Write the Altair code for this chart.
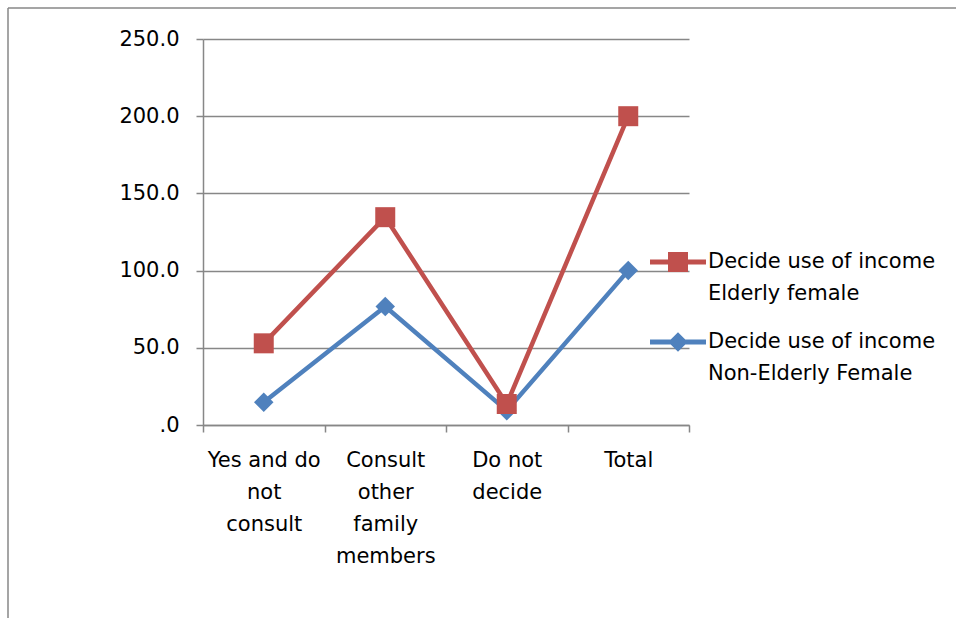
import altair as alt
import pandas as pd

# Categories (line breaks marked with "|")
categories = ["Yes and do|not|consult", "Consult|other|family|members", "Do not|decide", "Total"]
series_names = ["Decide use of income|Elderly female", "Decide use of income|Non-Elderly Female"]
elderly = [52.9, 134.6, 13.6, 200.0]
non_elderly = [14.7, 76.7, 9.3, 100.0]
y_ticks = [0, 50, 100, 150, 200, 250]

RED = "#C0504D"
BLUE = "#4F81BD"
GRAY = "#878787"
FONT = "DejaVu Sans"
FS = 21

rows = []
# blue rows first so red markers sit on top
for c, v in zip(categories, non_elderly):
    rows.append({"category": c, "series": series_names[1], "value": v})
for c, v in zip(categories, elderly):
    rows.append({"category": c, "series": series_names[0], "value": v})
df = pd.DataFrame(rows)

W, H = 486, 386
PAD = {"left": 203, "top": 39, "right": 267, "bottom": 193}

# Legend glyphs: a thick line with the series marker on top
red_glyph = "M-1,-0.09H1V0.09H-1Z M-0.357,-0.357H0.357V0.357H-0.357Z"
blue_glyph = "M-1,-0.09H1V0.09H-1Z M0,-0.35L0.35,0L0,0.35L-0.35,0Z"

x_enc = alt.X(
    "category:N",
    sort=categories,
    scale=alt.Scale(type="band", paddingInner=0, paddingOuter=0),
    axis=alt.Axis(
        title=None,
        labelExpr="split(datum.label, '|')",
        labelAngle=0,
        labelFont=FONT,
        labelFontSize=FS,
        labelColor="black",
        labelLineHeight=32,
        labelPadding=17,
        tickBand="extent",
        tickSize=7,
        tickColor=GRAY,
        tickWidth=1.5,
        domainColor=GRAY,
        domainWidth=1.5,
        grid=False,
    ),
)
y_enc = alt.Y(
    "value:Q",
    scale=alt.Scale(domain=[0, 250], nice=False),
    axis=alt.Axis(
        title=None,
        values=y_ticks,
        labelExpr="datum.value == 0 ? '.0' : format(datum.value, '.1f')",
        labelFont=FONT,
        labelFontSize=FS,
        labelColor="black",
        labelPadding=17,
        tickSize=7,
        tickColor=GRAY,
        tickWidth=1.5,
        domainColor=GRAY,
        domainWidth=1.5,
        grid=True,
        gridColor=GRAY,
        gridWidth=1.5,
    ),
)

color_scale = alt.Scale(domain=series_names, range=[RED, BLUE])
legend = alt.Legend(
    title=None,
    orient="none",
    legendX=447,
    legendY=195,
    padding=0,
    labelExpr="split(datum.label, '|')",
    labelFont=FONT,
    labelFontSize=FS,
    labelColor="black",
    labelOffset=2,
    labelLimit=400,
    symbolSize=3136,
    rowPadding=10,
    symbolType=alt.ExprRef(expr=f"datum.index == 0 ? '{red_glyph}' : '{blue_glyph}'"),
    symbolFillColor=alt.ExprRef(expr=f"datum.index == 0 ? '{RED}' : '{BLUE}'"),
    symbolStrokeWidth=0,
    symbolOpacity=1,
)

base = alt.Chart(df)

lines = base.mark_line(strokeWidth=4.5, strokeCap="round", strokeJoin="round").encode(
    x=x_enc,
    y=y_enc,
    color=alt.Color("series:N", scale=color_scale, legend=legend),
    order=alt.Order("series:N", sort="descending"),
)

blue_points = base.transform_filter(alt.datum.series == series_names[1]).mark_point(
    filled=True, opacity=1, shape="diamond", size=380, color=BLUE
).encode(x=x_enc, y=y_enc)

red_points = base.transform_filter(alt.datum.series == series_names[0]).mark_point(
    filled=True, opacity=1, shape="square", size=400, color=RED
).encode(x=x_enc, y=y_enc)

# chart-area border along the top and left edges
one = pd.DataFrame({"k": [0]})
frame_top = alt.Chart(one).mark_rule(color=GRAY, strokeWidth=1.5).encode(
    x=alt.value(-195), x2=alt.value(760), y=alt.value(-31)
)
frame_left = alt.Chart(one).mark_rule(color=GRAY, strokeWidth=1.5).encode(
    x=alt.value(-195), y=alt.value(-31), y2=alt.value(585)
)

chart = (
    alt.layer(frame_top, frame_left, lines, blue_points, red_points)
    .properties(width=W, height=H, padding=PAD, autosize=alt.AutoSizeParams(type="none"), background="white")
    .configure(style={"guide-label": {"lineHeight": 32}})
    .configure_view(stroke=None)
)

chart.save("out.html", embed_options={"renderer": "svg", "actions": False})
